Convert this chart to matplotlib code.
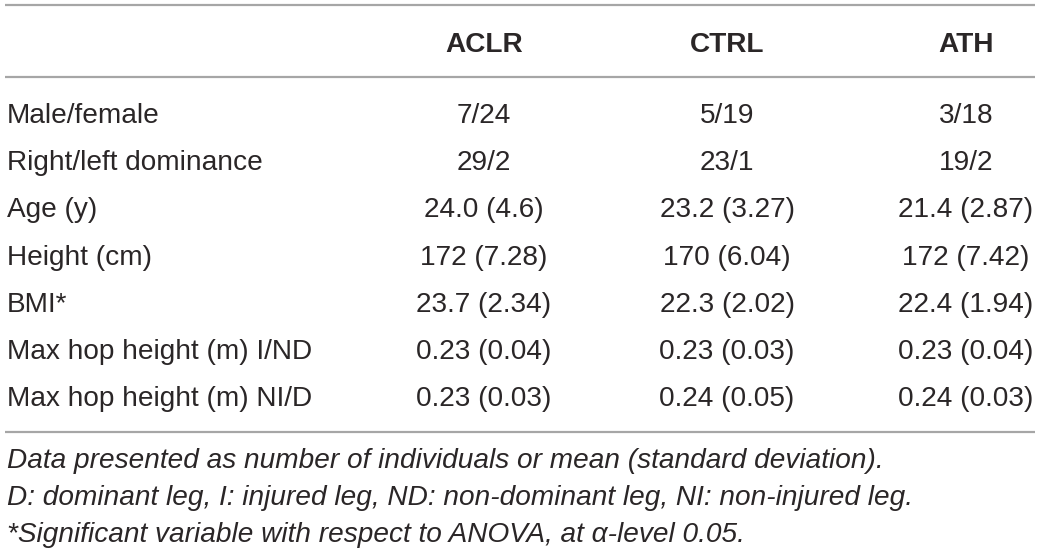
import matplotlib
matplotlib.use('Agg')
import matplotlib.pyplot as plt

plt.rcParams['font.family'] = ['Liberation Sans', 'DejaVu Sans']

# 表格内容
groups = ['ACLR', 'CTRL', 'ATH']
row_labels = ['Male/female', 'Right/left dominance', 'Age (y)', 'Height (cm)', 'BMI*',
              'Max hop height (m) I/ND', 'Max hop height (m) NI/D']
aclr = ['7/24', '29/2', '24.0 (4.6)', '172 (7.28)', '23.7 (2.34)', '0.23 (0.04)', '0.23 (0.03)']
ctrl = ['5/19', '23/1', '23.2 (3.27)', '170 (6.04)', '22.3 (2.02)', '0.23 (0.03)', '0.24 (0.05)']
ath = ['3/18', '19/2', '21.4 (2.87)', '172 (7.42)', '22.4 (1.94)', '0.23 (0.04)', '0.24 (0.03)']
notes = ['Data presented as number of individuals or mean (standard deviation).',
         'D: dominant leg, I: injured leg, ND: non-dominant leg, NI: non-injured leg.',
         '*Significant variable with respect to ANOVA, at \u03b1-level 0.05.']

# 画布：用像素坐标排版
fig = plt.figure(figsize=(10.4, 5.55), dpi=100)
ax = fig.add_axes([0, 0, 1, 1])
ax.set_xlim(0, 1040)
ax.set_ylim(555, 0)
ax.axis('off')

txt = '#2a2627'
line_c = '#a6a6a6'
fs = 20.2
col_x = [484, 727, 966]

# 横线
for y in [5, 77, 432]:
    ax.plot([5, 1035], [y, y], color=line_c, lw=1.6, solid_capstyle='butt')

# 表头
for x, g in zip(col_x, groups):
    ax.text(x, 52, g, ha='center', va='baseline', fontsize=fs, fontweight='bold', color=txt)

# 数据行
y0, dy = 123, 47.2
for i, lab in enumerate(row_labels):
    y = y0 + i * dy
    ax.text(7, y, lab, ha='left', va='baseline', fontsize=fs, color=txt)
    for x, col in zip(col_x, [aclr, ctrl, ath]):
        ax.text(x, y, col[i], ha='center', va='baseline', fontsize=fs, color=txt)

# 注释
for i, n in enumerate(notes):
    ax.text(7, 468 + i * 37, n, ha='left', va='baseline', fontsize=fs, style='italic', color=txt)

fig.savefig('out.png', dpi=100)
